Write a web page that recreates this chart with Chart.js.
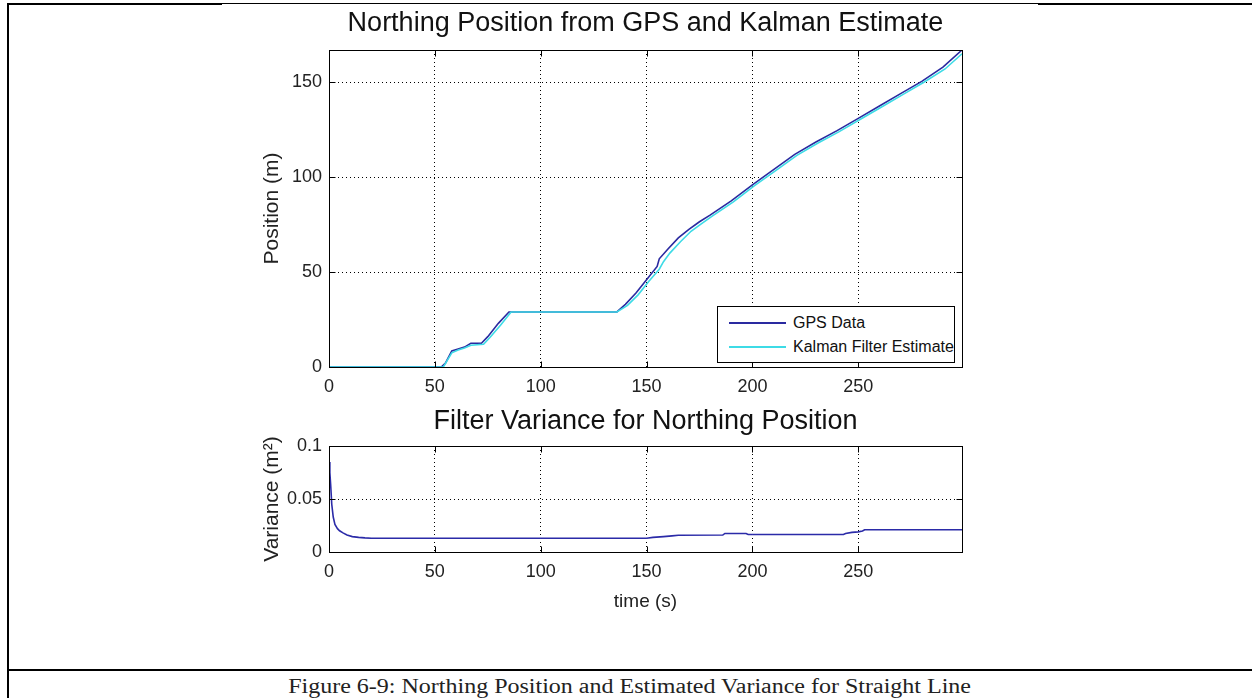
<!DOCTYPE html>
<html>
<head>
<meta charset="utf-8">
<script src="https://cdn.jsdelivr.net/npm/chart.js@4.4.1/dist/chart.umd.min.js"></script>
<style>
  html, body { margin: 0; padding: 0; background: #fff; }
  body { width: 1252px; height: 698px; position: relative; overflow: hidden; font-family: "Liberation Sans", Arial, sans-serif; }
  canvas { position: absolute; left: 0; }
  #grafArriba { top: 0; }
  #grafAbajo { top: 400px; }
  .linea { position: absolute; background: #000; z-index: 2; }
  #leyenda { position: absolute; left: 717px; top: 306px; width: 236px; height: 55px; border: 1px solid #000; background: #fff; z-index: 3; font-size: 16px; color: #111; }
  #leyenda .fila { position: absolute; left: 0; height: 20px; line-height: 20px; white-space: nowrap; }
  #leyenda .muestra { position: absolute; left: 11px; top: 9px; width: 57px; height: 1.5px; }
  #leyenda .texto { position: absolute; left: 75px; top: 0; }
  #pie { position: absolute; left: 9px; width: 1243px; top: 676px; text-align: center; font-family: "Liberation Serif", "Times New Roman", serif; font-size: 20px; line-height: 20px; color: #222; transform: scaleX(1.2); transform-origin: 626px 0; }
</style>
</head>
<body>
<canvas id="grafArriba" width="1252" height="400"></canvas>
<canvas id="grafAbajo" width="1252" height="240"></canvas>
<div class="linea" style="left:7px; top:3px; width:215px; height:2px;"></div>
<div class="linea" style="left:222px; top:3px; width:816px; height:1px;"></div>
<div class="linea" style="left:1038px; top:3px; width:214px; height:2px;"></div>
<div class="linea" style="left:7px; top:3px; width:2px; height:695px;"></div>
<div class="linea" style="left:7px; top:669px; width:1245px; height:2px;"></div>
<div id="leyenda"></div>
<div id="pie">Figure 6-9: Northing Position and Estimated Variance for Straight Line</div>
<script>
// datos
const tiempoGps = [0, 53, 55, 58, 61, 64, 67, 72, 75, 80, 85, 100, 120, 136, 140, 145, 150, 155, 156, 160, 165, 170, 175, 180, 190, 200, 210, 220, 230, 240, 250, 260, 270, 280, 290, 299];
const posGps = [0, 0, 2, 8.5, 9.5, 10.5, 12.5, 12.5, 16, 23, 29, 29, 29, 29, 33, 39, 46, 53, 57, 62, 68, 72.5, 76.5, 80, 87.5, 96, 104, 112, 118.5, 124.5, 131, 137.5, 144, 150.5, 158, 167];

const tiempoKalman = [0, 54, 58, 61, 64, 67, 73, 76, 81, 86, 136, 141, 146, 151, 156, 158, 161, 166, 171, 176, 181, 191, 201, 211, 221, 231, 241, 251, 261, 271, 281, 291, 299];
const posKalman = [0, 0, 7.5, 9, 10, 11.5, 12, 15.5, 22, 29, 29, 32.5, 38, 45, 51.5, 55.5, 60, 66, 71.5, 75.5, 79.5, 87, 95.5, 103.5, 111.5, 118, 124, 130.5, 137, 143.5, 150, 157, 165];

const tiempoVar = [0, 0.4, 0.8, 1.3, 2, 2.8, 4, 5, 6.6, 8.5, 11, 14, 17, 20, 150, 153, 158, 162, 165, 186, 187, 197, 198, 243, 244, 247, 250, 252, 253, 299];
const varianza = [0.085, 0.075, 0.063, 0.045, 0.033, 0.026, 0.022, 0.02, 0.018, 0.016, 0.0145, 0.0138, 0.0133, 0.013, 0.013, 0.0138, 0.0145, 0.0152, 0.0158, 0.016, 0.0175, 0.0175, 0.0165, 0.0165, 0.0175, 0.0185, 0.019, 0.0198, 0.021, 0.021];

const marcasX = [0, 50, 100, 150, 200, 250];
const marcasPos = [0, 50, 100, 150];
const marcasVar = [0, 0.05, 0.1];
const etiquetasVar = ['0', '0.05', '0.1'];

const fuente = "'Liberation Sans', Arial, sans-serif";
Chart.defaults.font.family = fuente;
Chart.defaults.color = '#222';

const aPuntos = (xs, ys) => xs.map((x, i) => ({ x: x, y: ys[i] }));

// caja estilo matlab con marcas hacia adentro
const cajaMatlab = {
  id: 'cajaMatlab',
  afterDatasetsDraw(chart) {
    const { ctx, chartArea: a, scales } = chart;
    const l = Math.round(a.left) + 0.5, r = Math.round(a.right) + 0.5;
    const t = Math.round(a.top) + 0.5, b = Math.round(a.bottom) + 0.5;
    const largo = 6;
    ctx.save();
    ctx.strokeStyle = '#000';
    ctx.lineWidth = 1;
    ctx.strokeRect(l, t, r - l, b - t);
    ctx.beginPath();
    scales.x.ticks.forEach(tk => {
      const px = Math.round(scales.x.getPixelForValue(tk.value)) + 0.5;
      ctx.moveTo(px, b); ctx.lineTo(px, b - largo);
      ctx.moveTo(px, t); ctx.lineTo(px, t + largo);
    });
    scales.y.ticks.forEach(tk => {
      const py = Math.round(scales.y.getPixelForValue(tk.value)) + 0.5;
      ctx.moveTo(l, py); ctx.lineTo(l + largo, py);
      ctx.moveTo(r, py); ctx.lineTo(r - largo, py);
    });
    ctx.stroke();
    ctx.restore();
  }
};

function ejeX(titulo, alto) {
  return {
    type: 'linear', min: 0, max: 299,
    afterBuildTicks: s => { s.ticks = marcasX.map(v => ({ value: v })); },
    afterFit: s => { s.height = alto; },
    grid: { color: '#000', lineWidth: 1, drawTicks: false },
    border: { display: true, color: '#000', width: 1, dash: [1, 3] },
    ticks: { font: { size: 18 }, padding: 9, maxRotation: 0, autoSkip: false, color: '#222' },
    title: titulo ? { display: true, text: titulo, font: { size: 19 }, color: '#222', padding: { top: 0, bottom: 27 } } : { display: false }
  };
}

function ejeY(max, marcas, etiquetas, titulo) {
  return {
    type: 'linear', min: 0, max: max,
    afterBuildTicks: s => { s.ticks = marcas.map(v => ({ value: v })); },
    afterFit: s => { s.width = 79; },
    grid: { color: '#000', lineWidth: 1, drawTicks: false },
    border: { display: true, color: '#000', width: 1, dash: [1, 3] },
    ticks: {
      font: { size: 18 }, padding: 7, color: '#222',
      callback: (v) => etiquetas ? etiquetas[marcas.indexOf(v)] : String(v)
    },
    title: { display: true, text: titulo, font: { size: 21 }, color: '#222', padding: { top: 10, bottom: 0 } }
  };
}

new Chart(document.getElementById('grafArriba'), {
  type: 'line',
  data: {
    datasets: [
      { label: 'GPS Data', data: aPuntos(tiempoGps, posGps), borderColor: '#2a2aa0', borderWidth: 1.6, order: 1 },
      { label: 'Kalman Filter Estimate', data: aPuntos(tiempoKalman, posKalman), borderColor: '#3ddbe6', borderWidth: 1.6, order: 0 }
    ]
  },
  options: {
    responsive: false,
    animation: false,
    devicePixelRatio: 1,
    layout: { padding: { left: 250, right: 290, top: 0, bottom: 0 } },
    elements: { point: { radius: 0 }, line: { tension: 0 } },
    plugins: {
      legend: { display: false },
      tooltip: { enabled: false },
      title: {
        display: true, fullSize: false,
        text: 'Northing Position from GPS and Kalman Estimate',
        color: '#111', font: { size: 27, weight: 'normal' },
        padding: { top: 7.5, bottom: 10.1 }
      }
    },
    scales: {
      x: ejeX(null, 33),
      y: ejeY(167, marcasPos, null, 'Position (m)')
    }
  },
  plugins: [cajaMatlab]
});

new Chart(document.getElementById('grafAbajo'), {
  type: 'line',
  data: {
    datasets: [
      { label: 'Variance', data: aPuntos(tiempoVar, varianza), borderColor: '#2b2ba8', borderWidth: 1.6 }
    ]
  },
  options: {
    responsive: false,
    animation: false,
    devicePixelRatio: 1,
    layout: { padding: { left: 250, right: 290, top: 0, bottom: 0 } },
    elements: { point: { radius: 0 }, line: { tension: 0 } },
    plugins: {
      legend: { display: false },
      tooltip: { enabled: false },
      title: {
        display: true, fullSize: false,
        text: 'Filter Variance for Northing Position',
        color: '#111', font: { size: 27, weight: 'normal' },
        padding: { top: 5, bottom: 8.6 }
      }
    },
    scales: {
      x: ejeX('time (s)', 88),
      y: ejeY(0.1, marcasVar, etiquetasVar, 'Variance (m²)')
    }
  },
  plugins: [cajaMatlab]
});

// leyenda (gps y kalman)
const series = [
  { nombre: 'GPS Data', color: '#2a2aa0' },
  { nombre: 'Kalman Filter Estimate', color: '#3ddbe6' }
];
const leyenda = document.getElementById('leyenda');
series.forEach((s, i) => {
  const fila = document.createElement('div');
  fila.className = 'fila';
  fila.style.top = (6 + i * 24) + 'px';
  fila.style.width = '100%';
  fila.innerHTML = '<div class="muestra" style="background:' + s.color + '"></div><div class="texto">' + s.nombre + '</div>';
  leyenda.appendChild(fila);
});
</script>
</body>
</html>
